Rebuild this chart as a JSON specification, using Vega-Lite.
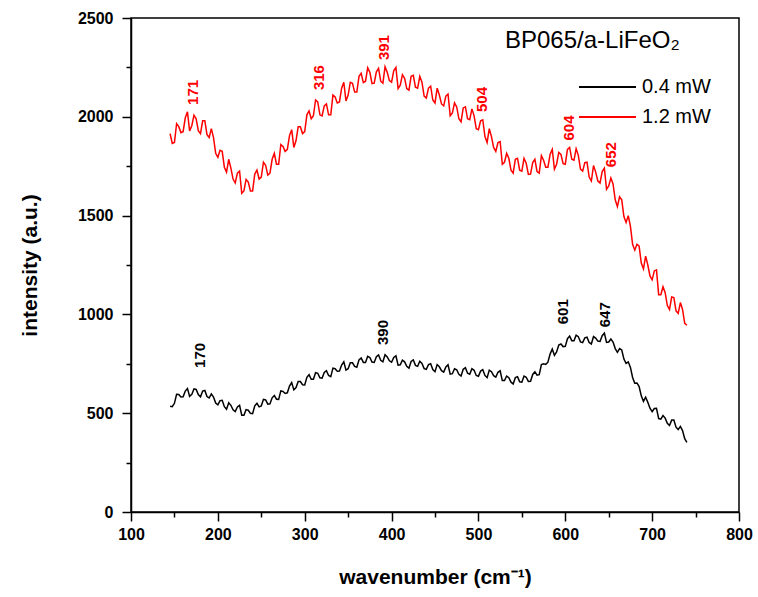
{
  "$schema": "https://vega.github.io/schema/vega-lite/v6.json",
  "autosize": "none",
  "width": 608,
  "height": 494,
  "padding": {"left": 131, "top": 18, "right": 19, "bottom": 85},
  "background": "white",
  "config": {
    "view": {"stroke": "black", "strokeWidth": 1.5},
    "font": "Liberation Sans",
    "axis": {"grid": false, "domainColor": "black", "domainWidth": 1.5, "tickColor": "black", "tickWidth": 1.5, "labelFont": "Liberation Sans", "labelFontWeight": "bold", "labelFontSize": 16, "labelColor": "black", "titleFont": "Liberation Sans", "titleFontWeight": "bold", "titleFontSize": 21, "titleColor": "black"}
  },
  "title": {"text": "BP065/a-LiFeO₂", "anchor": "start", "frame": "group", "orient": "top", "offset": 0, "dx": 374, "dy": 62, "baseline": "alphabetic", "font": "Liberation Sans", "fontSize": 24, "fontWeight": "normal", "color": "black"},
  "datasets": {
    "spec": [
      {"w":145,"p04":535,"p12":1915},{"w":150,"p04":550,"p12":1870},{"w":155,"p04":595,"p12":1950},{"w":160,"p04":583,"p12":1925},
      {"w":165,"p04":625,"p12":2025},{"w":170,"p04":595,"p12":1955},{"w":175,"p04":620,"p12":1990},{"w":180,"p04":583,"p12":1915},
      {"w":185,"p04":615,"p12":1980},{"w":190,"p04":577,"p12":1895},{"w":195,"p04":582,"p12":1895},{"w":200,"p04":542,"p12":1795},
      {"w":205,"p04":565,"p12":1825},{"w":210,"p04":520,"p12":1720},{"w":215,"p04":540,"p12":1740},{"w":220,"p04":508,"p12":1665},
      {"w":225,"p04":540,"p12":1725},{"w":230,"p04":490,"p12":1625},{"w":235,"p04":515,"p12":1670},{"w":240,"p04":498,"p12":1625},
      {"w":245,"p04":550,"p12":1730},{"w":250,"p04":537,"p12":1695},{"w":255,"p04":567,"p12":1755},{"w":260,"p04":547,"p12":1715},
      {"w":265,"p04":590,"p12":1815},{"w":270,"p04":570,"p12":1760},{"w":275,"p04":610,"p12":1850},{"w":280,"p04":603,"p12":1835},
      {"w":285,"p04":655,"p12":1935},{"w":290,"p04":630,"p12":1880},{"w":295,"p04":660,"p12":1950},{"w":300,"p04":643,"p12":1925},
      {"w":305,"p04":695,"p12":2030},{"w":310,"p04":672,"p12":2005},{"w":315,"p04":702,"p12":2075},{"w":320,"p04":677,"p12":2005},
      {"w":325,"p04":715,"p12":2065},{"w":330,"p04":685,"p12":2010},{"w":335,"p04":725,"p12":2100},{"w":340,"p04":713,"p12":2075},
      {"w":345,"p04":760,"p12":2175},{"w":350,"p04":725,"p12":2110},{"w":355,"p04":755,"p12":2170},{"w":360,"p04":733,"p12":2125},
      {"w":365,"p04":780,"p12":2220},{"w":370,"p04":757,"p12":2180},{"w":375,"p04":782,"p12":2225},{"w":380,"p04":757,"p12":2170},
      {"w":385,"p04":795,"p12":2245},{"w":390,"p04":760,"p12":2170},{"w":395,"p04":785,"p12":2225},{"w":400,"p04":758,"p12":2175},
      {"w":405,"p04":790,"p12":2250},{"w":410,"p04":745,"p12":2160},{"w":415,"p04":760,"p12":2195},{"w":420,"p04":728,"p12":2135},
      {"w":425,"p04":770,"p12":2210},{"w":430,"p04":737,"p12":2145},{"w":435,"p04":752,"p12":2175},{"w":440,"p04":722,"p12":2095},
      {"w":445,"p04":750,"p12":2155},{"w":450,"p04":710,"p12":2070},{"w":455,"p04":735,"p12":2110},{"w":460,"p04":708,"p12":2055},
      {"w":465,"p04":745,"p12":2115},{"w":470,"p04":700,"p12":2020},{"w":475,"p04":720,"p12":2050},{"w":480,"p04":688,"p12":1975},
      {"w":485,"p04":730,"p12":2050},{"w":490,"p04":697,"p12":1985},{"w":495,"p04":717,"p12":2005},{"w":500,"p04":687,"p12":1935},
      {"w":505,"p04":720,"p12":1985},{"w":510,"p04":680,"p12":1870},{"w":515,"p04":710,"p12":1900},{"w":520,"p04":683,"p12":1825},
      {"w":525,"p04":715,"p12":1875},{"w":530,"p04":665,"p12":1770},{"w":535,"p04":680,"p12":1790},{"w":540,"p04":648,"p12":1715},
      {"w":545,"p04":685,"p12":1790},{"w":550,"p04":657,"p12":1725},{"w":555,"p04":682,"p12":1765},{"w":560,"p04":662,"p12":1710},
      {"w":565,"p04":710,"p12":1785},{"w":570,"p04":695,"p12":1715},{"w":575,"p04":750,"p12":1780},{"w":580,"p04":758,"p12":1745},
      {"w":585,"p04":825,"p12":1835},{"w":590,"p04":810,"p12":1760},{"w":595,"p04":850,"p12":1810},{"w":600,"p04":838,"p12":1760},
      {"w":605,"p04":890,"p12":1845},{"w":610,"p04":867,"p12":1780},{"w":615,"p04":887,"p12":1805},{"w":620,"p04":857,"p12":1725},
      {"w":625,"p04":885,"p12":1770},{"w":630,"p04":850,"p12":1675},{"w":635,"p04":880,"p12":1720},{"w":640,"p04":863,"p12":1665},
      {"w":645,"p04":905,"p12":1740},{"w":650,"p04":860,"p12":1650},{"w":655,"p04":860,"p12":1660},{"w":660,"p04":808,"p12":1545},
      {"w":665,"p04":820,"p12":1580},{"w":670,"p04":752,"p12":1465},{"w":675,"p04":732,"p12":1445},{"w":680,"p04":652,"p12":1325},
      {"w":685,"p04":635,"p12":1345},{"w":690,"p04":560,"p12":1230},{"w":695,"p04":555,"p12":1250},{"w":700,"p04":508,"p12":1175},
      {"w":705,"p04":525,"p12":1225},{"w":710,"p04":470,"p12":1100},{"w":715,"p04":475,"p12":1110},{"w":720,"p04":438,"p12":1025},
      {"w":725,"p04":465,"p12":1085},{"w":730,"p04":417,"p12":1005},{"w":735,"p04":412,"p12":1025},{"w":740,"p04":352,"p12":945},
      {"w":147.5,"p04":533,"p12":1865},{"w":152.5,"p04":596,"p12":1965},{"w":157.5,"p04":582,"p12":1920},{"w":162.5,"p04":612,"p12":1995},
      {"w":167.5,"p04":585,"p12":1928},{"w":172.5,"p04":623,"p12":2008},{"w":177.5,"p04":594,"p12":1930},{"w":182.5,"p04":612,"p12":1980},
      {"w":187.5,"p04":584,"p12":1910},{"w":192.5,"p04":598,"p12":1940},{"w":197.5,"p04":551,"p12":1815},{"w":202.5,"p04":563,"p12":1830},
      {"w":207.5,"p04":533,"p12":1745},{"w":212.5,"p04":553,"p12":1785},{"w":217.5,"p04":517,"p12":1685},{"w":222.5,"p04":532,"p12":1715},
      {"w":227.5,"p04":490,"p12":1613},{"w":232.5,"p04":518,"p12":1683},{"w":237.5,"p04":499,"p12":1625},{"w":242.5,"p04":537,"p12":1710},
      {"w":247.5,"p04":532,"p12":1685},{"w":252.5,"p04":570,"p12":1770},{"w":257.5,"p04":546,"p12":1705},{"w":262.5,"p04":578,"p12":1785},
      {"w":267.5,"p04":571,"p12":1760},{"w":272.5,"p04":613,"p12":1860},{"w":277.5,"p04":600,"p12":1825},{"w":282.5,"p04":637,"p12":1905},
      {"w":287.5,"p04":618,"p12":1845},{"w":292.5,"p04":660,"p12":1950},{"w":297.5,"p04":644,"p12":1915},{"w":302.5,"p04":682,"p12":2010},
      {"w":307.5,"p04":672,"p12":1990},{"w":312.5,"p04":705,"p12":2085},{"w":317.5,"p04":679,"p12":2010},{"w":322.5,"p04":706,"p12":2055},
      {"w":327.5,"p04":691,"p12":2010},{"w":332.5,"p04":728,"p12":2110},{"w":337.5,"p04":712,"p12":2070},{"w":342.5,"p04":744,"p12":2145},
      {"w":347.5,"p04":718,"p12":2080},{"w":352.5,"p04":755,"p12":2175},{"w":357.5,"p04":737,"p12":2125},{"w":362.5,"p04":770,"p12":2205},
      {"w":367.5,"p04":757,"p12":2173},{"w":372.5,"p04":788,"p12":2248},{"w":377.5,"p04":759,"p12":2168},{"w":382.5,"p04":786,"p12":2228},
      {"w":387.5,"p04":768,"p12":2180},{"w":392.5,"p04":796,"p12":2253},{"w":397.5,"p04":765,"p12":2183},{"w":402.5,"p04":782,"p12":2233},
      {"w":407.5,"p04":743,"p12":2143},{"w":412.5,"p04":768,"p12":2213},{"w":417.5,"p04":737,"p12":2143},{"w":422.5,"p04":762,"p12":2205},
      {"w":427.5,"p04":742,"p12":2150},{"w":432.5,"p04":763,"p12":2205},{"w":437.5,"p04":726,"p12":2105},{"w":442.5,"p04":746,"p12":2145},
      {"w":447.5,"p04":721,"p12":2085},{"w":452.5,"p04":746,"p12":2145},{"w":457.5,"p04":715,"p12":2065},{"w":462.5,"p04":734,"p12":2105},
      {"w":467.5,"p04":698,"p12":2005},{"w":472.5,"p04":725,"p12":2070},{"w":477.5,"p04":697,"p12":1990},{"w":482.5,"p04":722,"p12":2045},
      {"w":487.5,"p04":702,"p12":1990},{"w":492.5,"p04":725,"p12":2040},{"w":497.5,"p04":691,"p12":1940},{"w":502.5,"p04":713,"p12":1980},
      {"w":507.5,"p04":691,"p12":1900},{"w":512.5,"p04":718,"p12":1940},{"w":517.5,"p04":690,"p12":1845},{"w":522.5,"p04":707,"p12":1870},
      {"w":527.5,"p04":665,"p12":1760},{"w":532.5,"p04":688,"p12":1815},{"w":537.5,"p04":657,"p12":1730},{"w":542.5,"p04":680,"p12":1785},
      {"w":547.5,"p04":659,"p12":1730},{"w":552.5,"p04":688,"p12":1790},{"w":557.5,"p04":661,"p12":1708},{"w":562.5,"p04":696,"p12":1768},
      {"w":567.5,"p04":693,"p12":1723},{"w":572.5,"p04":746,"p12":1803},{"w":577.5,"p04":747,"p12":1745},{"w":582.5,"p04":799,"p12":1810},
      {"w":587.5,"p04":793,"p12":1735},{"w":592.5,"p04":845,"p12":1820},{"w":597.5,"p04":837,"p12":1763},{"w":602.5,"p04":877,"p12":1835},
      {"w":607.5,"p04":867,"p12":1785},{"w":612.5,"p04":895,"p12":1838},{"w":617.5,"p04":861,"p12":1735},{"w":622.5,"p04":881,"p12":1768},
      {"w":627.5,"p04":858,"p12":1695},{"w":632.5,"p04":888,"p12":1753},{"w":637.5,"p04":865,"p12":1675},{"w":642.5,"p04":892,"p12":1723},
      {"w":647.5,"p04":858,"p12":1633},{"w":652.5,"p04":875,"p12":1690},{"w":657.5,"p04":827,"p12":1580},{"w":662.5,"p04":827,"p12":1595},
      {"w":667.5,"p04":774,"p12":1495},{"w":672.5,"p04":760,"p12":1500},{"w":677.5,"p04":681,"p12":1355},{"w":682.5,"p04":653,"p12":1355},
      {"w":687.5,"p04":588,"p12":1260},{"w":692.5,"p04":581,"p12":1295},{"w":697.5,"p04":525,"p12":1195},{"w":702.5,"p04":524,"p12":1220},
      {"w":707.5,"p04":473,"p12":1100},{"w":712.5,"p04":488,"p12":1140},{"w":717.5,"p04":449,"p12":1045},{"w":722.5,"p04":465,"p12":1088},
      {"w":727.5,"p04":429,"p12":1018},{"w":732.5,"p04":433,"p12":1060},{"w":737.5,"p04":371,"p12":955}
    ],
    "peaks": [
      {"w":171,"v":2060,"label":"171","series":"p12"},
      {"w":316,"v":2135,"label":"316","series":"p12"},
      {"w":391,"v":2287,"label":"391","series":"p12"},
      {"w":504,"v":2024,"label":"504","series":"p12"},
      {"w":604,"v":1880,"label":"604","series":"p12"},
      {"w":653,"v":1745,"label":"652","series":"p12"},
      {"w":179,"v":729,"label":"170","series":"p04"},
      {"w":390,"v":845,"label":"390","series":"p04"},
      {"w":597,"v":950,"label":"601","series":"p04"},
      {"w":646,"v":935,"label":"647","series":"p04"}
    ]
  },
  "layer": [
    {
      "data": {"name": "spec"},
      "transform": [{"fold": ["p04", "p12"], "as": ["series", "intensity"]}],
      "mark": {"type": "line", "strokeWidth": 1.5, "clip": true},
      "encoding": {
        "x": {"field": "w", "type": "quantitative", "scale": {"domain": [100, 800], "nice": false},
          "axis": {"title": "wavenumber (cm⁻¹)", "values": [100,150,200,250,300,350,400,450,500,550,600,650,700,750,800],
            "labelExpr": "datum.value % 100 === 0 ? datum.label : ''", "tickSize": {"condition": {"test": "datum.value % 100 === 0", "value": 9}, "value": 5},
            "labelPadding": 5, "titlePadding": 24, "labelFlush": false}},
        "y": {"field": "intensity", "type": "quantitative", "scale": {"domain": [0, 2500], "nice": false},
          "axis": {"title": "intensity (a.u.)", "values": [0,250,500,750,1000,1250,1500,1750,2000,2250,2500],
            "labelExpr": "datum.value % 500 === 0 ? datum.label : ''", "tickSize": {"condition": {"test": "datum.value % 500 === 0", "value": 9}, "value": 5},
            "labelPadding": 9, "titleX": -101, "titleBaseline": "middle", "labelFlush": false, "format": "d"}},
        "color": {"field": "series", "type": "nominal",
          "scale": {"domain": ["p04", "p12"], "range": ["#000000", "#ff0000"]},
          "legend": {"orient": "none", "legendX": 447, "legendY": 59, "title": null, "symbolType": "stroke", "symbolSize": 3249, "symbolStrokeWidth": 2, "clipHeight": 20, "rowPadding": 10,
            "labelExpr": "datum.label === 'p04' ? '0.4 mW' : '1.2 mW'", "labelFont": "Liberation Sans", "labelFontSize": 20, "labelColor": "black", "labelOffset": 5}}
      }
    },
    {
      "data": {"name": "peaks"},
      "mark": {"type": "text", "angle": 270, "align": "left", "baseline": "middle", "fontSize": 15, "fontWeight": "bold", "font": "Liberation Sans"},
      "encoding": {
        "x": {"field": "w", "type": "quantitative"},
        "y": {"field": "v", "type": "quantitative"},
        "text": {"field": "label"},
        "color": {"field": "series", "type": "nominal", "legend": null}
      }
    }
  ]
}
